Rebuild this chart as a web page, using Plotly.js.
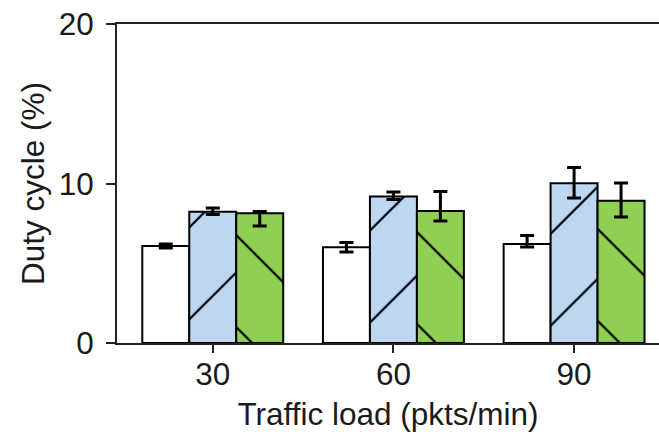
<!DOCTYPE html>
<html>
<head>
<meta charset="utf-8">
<script src="https://cdn.plot.ly/plotly-3.0.1.min.js"></script>
<style>html,body{margin:0;padding:0;background:#fff;}#chart{width:659px;height:432px;}</style>
</head>
<body>
<div id="chart"></div>
<script>
// Data
var categories = ['30', '60', '90'];
var whiteVals = [6.08, 6.0, 6.21];
var whiteErrPlus = [0.13, 0.3, 0.53];
var whiteErrMinus = [0.13, 0.3, 0.19];
var blueVals = [8.23, 9.18, 10.01];
var blueErrPlus = [0.23, 0.29, 0.99];
var blueErrMinus = [0.17, 0.18, 0.92];
var greenVals = [8.13, 8.28, 8.92];
var greenErrPlus = [0.11, 1.22, 1.11];
var greenErrMinus = [0.79, 0.63, 1.02];
var yTicks = [0, 10, 20];

var xIdx = [0, 1, 2];

function errCfg(p, m) {
  return {type: 'data', symmetric: false, array: p, arrayminus: m,
          color: '#000', thickness: 3, width: 7};
}

var traces = [
  {type: 'bar', x: xIdx, y: whiteVals, name: 'A',
   marker: {color: '#ffffff', line: {color: '#000', width: 2}},
   error_y: errCfg(whiteErrPlus, whiteErrMinus)},
  {type: 'bar', x: xIdx, y: blueVals, name: 'B',
   marker: {color: '#bdd7f3', line: {color: '#000', width: 2},
            pattern: {shape: '/', bgcolor: '#bdd7f3', fgcolor: '#000', size: 65, solidity: 0.035}},
   error_y: errCfg(blueErrPlus, blueErrMinus)},
  {type: 'bar', x: xIdx, y: greenVals, name: 'C',
   marker: {color: '#8fcf52', line: {color: '#000', width: 2},
            pattern: {shape: '\\', bgcolor: '#8fcf52', fgcolor: '#000', size: 65, solidity: 0.035}},
   error_y: errCfg(greenErrPlus, greenErrMinus)}
];

var font = {family: '"Liberation Sans", Arial, sans-serif', size: 31.5, color: '#1a1a1a'};

var layout = {
  width: 659, height: 432,
  margin: {l: 117, r: 0, t: 24, b: 89},
  paper_bgcolor: '#fff', plot_bgcolor: '#fff',
  showlegend: false,
  barmode: 'group', bargap: 0.22, bargroupgap: 0,
  font: font,
  xaxis: {
    range: [-0.53, 2.47],
    tickvals: xIdx, ticktext: categories,
    showgrid: false, zeroline: false,
    showline: true, linecolor: '#222', linewidth: 2, mirror: true,
    ticks: 'outside', ticklen: 8, tickwidth: 2, tickcolor: '#222',
    tickfont: font, ticklabelstandoff: -6,
    title: {text: 'Traffic load (pkts/min)', font: font, standoff: 12}
  },
  yaxis: {
    range: [0, 20],
    tickvals: yTicks,
    showgrid: false, zeroline: false,
    showline: true, linecolor: '#222', linewidth: 2,
    ticks: 'outside', ticklen: 9, tickwidth: 2, tickcolor: '#222',
    tickfont: font, ticklabelstandoff: 6,
    title: {text: 'Duty cycle (%)', font: font, standoff: 5}
  }
};

Plotly.newPlot('chart', traces, layout, {displayModeBar: false, staticPlot: true});
</script>
</body>
</html>
